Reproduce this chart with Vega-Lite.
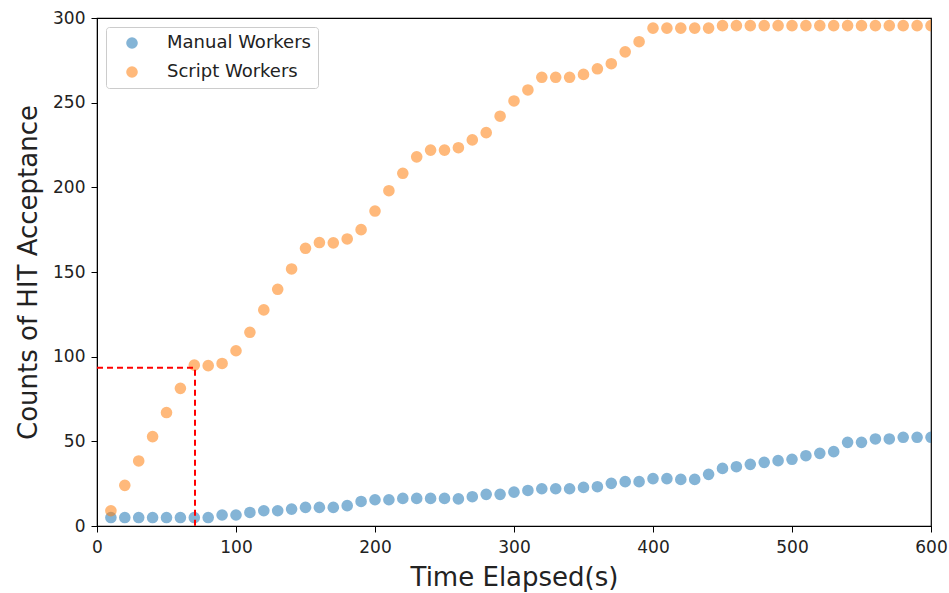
{
  "$schema": "https://vega.github.io/schema/vega-lite/v6.json",
  "width": 834,
  "height": 508,
  "autosize": {"type": "none"},
  "padding": {"left": 97, "top": 18, "right": 18, "bottom": 67},
  "background": "white",
  "config": {
    "view": {"stroke": "#000000", "strokeWidth": 1.2},
    "font": "DejaVu Sans",
    "axis": {
      "grid": false,
      "domainColor": "#000000",
      "tickColor": "#000000",
      "tickSize": 6,
      "labelFlush": false,
      "labelColor": "#222222",
      "titleColor": "#222222",
      "labelFont": "DejaVu Sans",
      "titleFont": "DejaVu Sans",
      "labelFontSize": 17,
      "titleFontSize": 26,
      "titleFontWeight": "normal"
    }
  },
  "datasets": {
    "pts": [
      {"t": 10, "series": "Manual Workers", "count": 5},
      {"t": 20, "series": "Manual Workers", "count": 5},
      {"t": 30, "series": "Manual Workers", "count": 5},
      {"t": 40, "series": "Manual Workers", "count": 5},
      {"t": 50, "series": "Manual Workers", "count": 5},
      {"t": 60, "series": "Manual Workers", "count": 5},
      {"t": 70, "series": "Manual Workers", "count": 5},
      {"t": 80, "series": "Manual Workers", "count": 5},
      {"t": 90, "series": "Manual Workers", "count": 6.5},
      {"t": 100, "series": "Manual Workers", "count": 6.5},
      {"t": 110, "series": "Manual Workers", "count": 8},
      {"t": 120, "series": "Manual Workers", "count": 9},
      {"t": 130, "series": "Manual Workers", "count": 9},
      {"t": 140, "series": "Manual Workers", "count": 10},
      {"t": 150, "series": "Manual Workers", "count": 11},
      {"t": 160, "series": "Manual Workers", "count": 11},
      {"t": 170, "series": "Manual Workers", "count": 11},
      {"t": 180, "series": "Manual Workers", "count": 12},
      {"t": 190, "series": "Manual Workers", "count": 14.5},
      {"t": 200, "series": "Manual Workers", "count": 15.5},
      {"t": 210, "series": "Manual Workers", "count": 15.5},
      {"t": 220, "series": "Manual Workers", "count": 16.3},
      {"t": 230, "series": "Manual Workers", "count": 16.3},
      {"t": 240, "series": "Manual Workers", "count": 16.3},
      {"t": 250, "series": "Manual Workers", "count": 16.3},
      {"t": 260, "series": "Manual Workers", "count": 16},
      {"t": 270, "series": "Manual Workers", "count": 17.3},
      {"t": 280, "series": "Manual Workers", "count": 18.7},
      {"t": 290, "series": "Manual Workers", "count": 18.7},
      {"t": 300, "series": "Manual Workers", "count": 20},
      {"t": 310, "series": "Manual Workers", "count": 21},
      {"t": 320, "series": "Manual Workers", "count": 22},
      {"t": 330, "series": "Manual Workers", "count": 22},
      {"t": 340, "series": "Manual Workers", "count": 22},
      {"t": 350, "series": "Manual Workers", "count": 22.8},
      {"t": 360, "series": "Manual Workers", "count": 23.2},
      {"t": 370, "series": "Manual Workers", "count": 25.2},
      {"t": 380, "series": "Manual Workers", "count": 26.2},
      {"t": 390, "series": "Manual Workers", "count": 26.2},
      {"t": 400, "series": "Manual Workers", "count": 28},
      {"t": 410, "series": "Manual Workers", "count": 28},
      {"t": 420, "series": "Manual Workers", "count": 27.5},
      {"t": 430, "series": "Manual Workers", "count": 27.5},
      {"t": 440, "series": "Manual Workers", "count": 30.5},
      {"t": 450, "series": "Manual Workers", "count": 34},
      {"t": 460, "series": "Manual Workers", "count": 35},
      {"t": 470, "series": "Manual Workers", "count": 36.4},
      {"t": 480, "series": "Manual Workers", "count": 37.6},
      {"t": 490, "series": "Manual Workers", "count": 38.6},
      {"t": 500, "series": "Manual Workers", "count": 39.4},
      {"t": 510, "series": "Manual Workers", "count": 41.5},
      {"t": 520, "series": "Manual Workers", "count": 42.9},
      {"t": 530, "series": "Manual Workers", "count": 43.9},
      {"t": 540, "series": "Manual Workers", "count": 49.4},
      {"t": 550, "series": "Manual Workers", "count": 49.4},
      {"t": 560, "series": "Manual Workers", "count": 51.4},
      {"t": 570, "series": "Manual Workers", "count": 51.4},
      {"t": 580, "series": "Manual Workers", "count": 52.4},
      {"t": 590, "series": "Manual Workers", "count": 52.4},
      {"t": 600, "series": "Manual Workers", "count": 52.4},
      {"t": 10, "series": "Script Workers", "count": 9},
      {"t": 20, "series": "Script Workers", "count": 24},
      {"t": 30, "series": "Script Workers", "count": 38.4},
      {"t": 40, "series": "Script Workers", "count": 52.8},
      {"t": 50, "series": "Script Workers", "count": 67},
      {"t": 60, "series": "Script Workers", "count": 81.3},
      {"t": 70, "series": "Script Workers", "count": 95},
      {"t": 80, "series": "Script Workers", "count": 94.7},
      {"t": 90, "series": "Script Workers", "count": 96},
      {"t": 100, "series": "Script Workers", "count": 103.5},
      {"t": 110, "series": "Script Workers", "count": 114.4},
      {"t": 120, "series": "Script Workers", "count": 127.6},
      {"t": 130, "series": "Script Workers", "count": 139.8},
      {"t": 140, "series": "Script Workers", "count": 151.8},
      {"t": 150, "series": "Script Workers", "count": 164},
      {"t": 160, "series": "Script Workers", "count": 167.4},
      {"t": 170, "series": "Script Workers", "count": 167.2},
      {"t": 180, "series": "Script Workers", "count": 169.5},
      {"t": 190, "series": "Script Workers", "count": 175},
      {"t": 200, "series": "Script Workers", "count": 186},
      {"t": 210, "series": "Script Workers", "count": 198},
      {"t": 220, "series": "Script Workers", "count": 208.3},
      {"t": 230, "series": "Script Workers", "count": 218},
      {"t": 240, "series": "Script Workers", "count": 222},
      {"t": 250, "series": "Script Workers", "count": 222},
      {"t": 260, "series": "Script Workers", "count": 223.4},
      {"t": 270, "series": "Script Workers", "count": 228},
      {"t": 280, "series": "Script Workers", "count": 232.3},
      {"t": 290, "series": "Script Workers", "count": 242},
      {"t": 300, "series": "Script Workers", "count": 251},
      {"t": 310, "series": "Script Workers", "count": 257.5},
      {"t": 320, "series": "Script Workers", "count": 265},
      {"t": 330, "series": "Script Workers", "count": 265},
      {"t": 340, "series": "Script Workers", "count": 265},
      {"t": 350, "series": "Script Workers", "count": 266.7},
      {"t": 360, "series": "Script Workers", "count": 270},
      {"t": 370, "series": "Script Workers", "count": 273},
      {"t": 380, "series": "Script Workers", "count": 280},
      {"t": 390, "series": "Script Workers", "count": 286},
      {"t": 400, "series": "Script Workers", "count": 294},
      {"t": 410, "series": "Script Workers", "count": 294},
      {"t": 420, "series": "Script Workers", "count": 294},
      {"t": 430, "series": "Script Workers", "count": 294},
      {"t": 440, "series": "Script Workers", "count": 294},
      {"t": 450, "series": "Script Workers", "count": 295.5},
      {"t": 460, "series": "Script Workers", "count": 295.5},
      {"t": 470, "series": "Script Workers", "count": 295.5},
      {"t": 480, "series": "Script Workers", "count": 295.5},
      {"t": 490, "series": "Script Workers", "count": 295.5},
      {"t": 500, "series": "Script Workers", "count": 295.5},
      {"t": 510, "series": "Script Workers", "count": 295.5},
      {"t": 520, "series": "Script Workers", "count": 295.5},
      {"t": 530, "series": "Script Workers", "count": 295.5},
      {"t": 540, "series": "Script Workers", "count": 295.5},
      {"t": 550, "series": "Script Workers", "count": 295.5},
      {"t": 560, "series": "Script Workers", "count": 295.5},
      {"t": 570, "series": "Script Workers", "count": 295.5},
      {"t": 580, "series": "Script Workers", "count": 295.5},
      {"t": 590, "series": "Script Workers", "count": 295.5},
      {"t": 600, "series": "Script Workers", "count": 295.5}
    ],
    "guide": [
      {"t": 0, "count": 93.5},
      {"t": 70.5, "count": 93.5},
      {"t": 70.5, "count": 0}
    ]
  },
  "layer": [
    {
      "data": {"name": "pts"},
      "mark": {"type": "point", "filled": true, "size": 135, "opacity": 0.55, "clip": true, "strokeWidth": 0},
      "encoding": {
        "x": {
          "field": "t", "type": "quantitative",
          "scale": {"domain": [0, 600], "nice": false},
          "axis": {"values": [0, 100, 200, 300, 400, 500, 600], "title": "Time Elapsed(s)", "labelPadding": 7, "titlePadding": 9}
        },
        "y": {
          "field": "count", "type": "quantitative",
          "scale": {"domain": [0, 300], "nice": false},
          "axis": {"values": [0, 50, 100, 150, 200, 250, 300], "title": "Counts of HIT Acceptance", "labelPadding": 6, "titlePadding": 11}
        },
        "color": {
          "field": "series", "type": "nominal",
          "scale": {"domain": ["Manual Workers", "Script Workers"], "range": ["#1f77b4", "#ff7f0e"]},
          "legend": {
            "title": null,
            "orient": "top-left",
            "offset": 9,
            "padding": 7,
            "symbolOffset": 10,
            "symbolOpacity": 0.55,
            "symbolSize": 135,
            "symbolStrokeWidth": 0,
            "labelFontSize": 18,
            "labelColor": "#222222",
            "labelFont": "DejaVu Sans",
            "labelOffset": 26,
            "rowPadding": 11,
            "strokeColor": "#cccccc",
            "fillColor": "white",
            "cornerRadius": 3
          }
        }
      }
    },
    {
      "data": {"name": "guide"},
      "mark": {"type": "line", "color": "#ff0000", "strokeWidth": 2, "strokeDash": [6, 4]},
      "encoding": {
        "x": {"field": "t", "type": "quantitative"},
        "y": {"field": "count", "type": "quantitative"},
        "order": {"value": 0}
      }
    }
  ]
}
